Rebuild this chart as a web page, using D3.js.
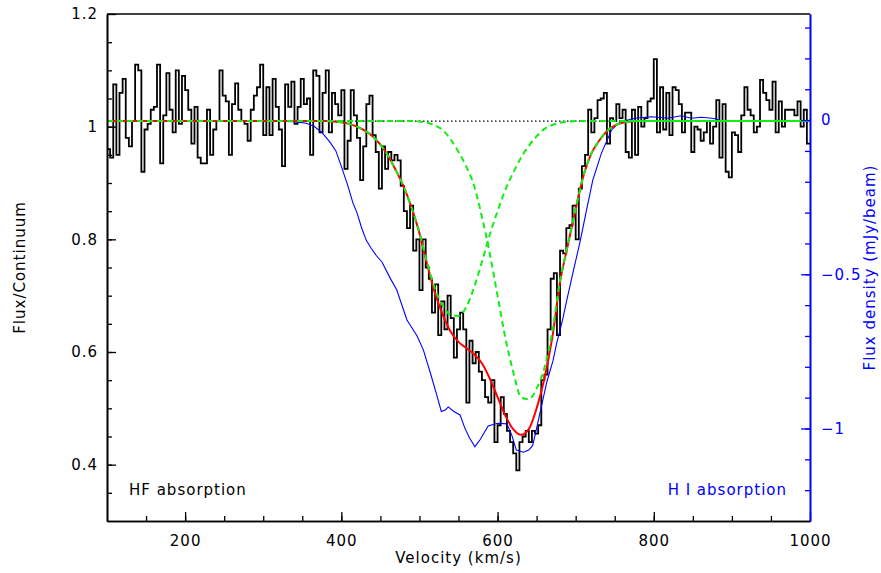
<!DOCTYPE html>
<html>
<head>
<meta charset="utf-8">
<script src="https://cdn.jsdelivr.net/npm/d3@7"></script>
<style>
body { margin: 0; background: #fff; }
text { font-family: "DejaVu Sans", sans-serif; letter-spacing: 1px; }
</style>
</head>
<body>
<div id="chart-area"></div>
<script>
// HF spectrum, 4 km/s channels starting at 100 km/s (flux / continuum)
var hfStart = 100, hfStep = 4;
var hfFlux = [
    0.96, 0.945, 1.075, 0.95, 1.06, 1.085, 0.98, 0.965, 1.01, 1.11,
    1.10, 0.92, 0.995, 1.005, 1.03, 1.035, 1.11, 0.935, 1.02, 1.095,
    1.03, 0.99, 1.10, 1.005, 1.09, 1.065, 1.03, 0.97, 1.035, 0.945,
    0.935, 0.935, 1.03, 0.95, 0.995, 1.01, 1.10, 1.055, 1.045, 0.95,
    1.04, 1.077, 1.03, 1.01, 1.005, 0.975, 1.03, 1.055, 1.07, 1.11,
    0.985, 1.07, 0.985, 1.085, 1.035, 0.995, 0.93, 1.075, 1.035, 1.08,
    1.005, 1.035, 1.085, 1.04, 1.05, 0.95, 1.10, 1.09, 0.99, 1.06,
    1.10, 0.99, 1.06, 1.04, 1.02, 1.065, 0.925, 0.975, 1.065, 1.02,
    0.98, 0.905, 0.965, 1.04, 1.055, 0.985, 0.955, 0.89, 0.965, 0.925,
    0.955, 0.94, 0.95, 0.94, 0.895, 0.85, 0.82, 0.86, 0.78, 0.80,
    0.71, 0.80, 0.75, 0.73, 0.67, 0.72, 0.63, 0.69, 0.64, 0.70,
    0.66, 0.59, 0.64, 0.67, 0.64, 0.51, 0.62, 0.58, 0.60, 0.565,
    0.55, 0.52, 0.51, 0.55, 0.44, 0.47, 0.52, 0.49, 0.46, 0.44,
    0.42, 0.39, 0.44, 0.45, 0.46, 0.44, 0.46, 0.455, 0.47, 0.55,
    0.56, 0.64, 0.73, 0.74, 0.63, 0.78, 0.775, 0.82, 0.825, 0.86,
    0.80, 0.89, 0.93, 0.95, 1.03, 0.99, 1.015, 1.047, 1.05, 1.06,
    0.97, 1.015, 1.01, 1.04, 1.015, 1.03, 0.955, 0.945, 1.03, 0.95,
    1.035, 1.0, 1.015, 1.045, 1.05, 1.12, 0.99, 1.07, 0.995, 1.06,
    0.985, 1.07, 1.065, 1.04, 0.99, 1.025, 1.025, 0.955, 1.0, 0.995,
    0.975, 0.99, 1.01, 0.97, 1.0, 1.047, 0.945, 1.04, 0.92, 0.91,
    0.99, 0.985, 0.955, 1.02, 1.07, 1.03, 1.02, 0.99, 1.0, 1.083,
    1.06, 1.047, 1.03, 1.08, 0.99, 1.045, 1.0, 1.03, 1.03, 1.03,
    1.02, 1.045, 1.0, 1.03, 0.97
];

// Gaussian fit: total (red) and the two components (green)
var fitVel = [100, 360, 370, 380, 390, 400, 410, 420, 430, 440, 450, 460, 470, 480, 490,
    500, 510, 520, 530, 540, 550, 560, 570, 580, 590, 600, 610, 620, 630, 640, 650,
    660, 670, 680, 690, 700, 710, 720, 730, 740, 750, 760, 770, 780, 790, 800, 1000];
var fitTotal = [1.01, 1.01, 1.01, 1.01, 1.009, 1.008, 1.005, 1.000, 0.993, 0.983, 0.968, 0.948, 0.922, 0.893, 0.856,
    0.811, 0.755, 0.704, 0.666, 0.636, 0.618, 0.607, 0.596, 0.580, 0.553, 0.520, 0.487, 0.463, 0.453, 0.463, 0.500,
    0.553, 0.625, 0.724, 0.790, 0.854, 0.913, 0.952, 0.975, 0.992, 1.002, 1.007, 1.009, 1.01, 1.01, 1.01, 1.01];
var fitComp1 = [1.01, 1.01, 1.01, 1.01, 1.009, 1.008, 1.005, 1.000, 0.993, 0.983, 0.968, 0.948, 0.922, 0.893, 0.856,
    0.812, 0.758, 0.712, 0.682, 0.666, 0.664, 0.680, 0.715, 0.760, 0.808, 0.850, 0.888, 0.918, 0.945, 0.966, 0.983,
    0.996, 1.003, 1.007, 1.009, 1.01, 1.01, 1.01, 1.01, 1.01, 1.01, 1.01, 1.01, 1.01, 1.01, 1.01, 1.01];
var fitComp2 = [1.01, 1.01, 1.01, 1.01, 1.01, 1.01, 1.01, 1.01, 1.01, 1.01, 1.01, 1.01, 1.01, 1.01, 1.01,
    1.009, 1.007, 1.002, 0.994, 0.977, 0.955, 0.929, 0.895, 0.840, 0.775, 0.700, 0.625, 0.565, 0.520, 0.516, 0.535,
    0.572, 0.636, 0.727, 0.791, 0.854, 0.913, 0.952, 0.975, 0.992, 1.002, 1.007, 1.009, 1.01, 1.01, 1.01, 1.01];
var continuum = 1.01;

// H I absorption (mJy/beam, right axis)
var hiVel = [225, 260, 300, 340, 355, 365, 375, 385, 393, 400, 408, 415, 420, 426, 432, 438, 445, 452, 462, 471,
    484, 497, 505, 514, 522, 528, 533, 537, 544, 552, 558, 564, 571, 578, 588, 600, 612, 618, 624, 633,
    640, 645, 650, 656, 663, 671, 676, 683, 689, 697, 706, 714, 722, 733, 746, 755, 763, 776, 797, 818,
    835, 848, 861, 875, 885];
var hiFlux = [-0.004, -0.003, -0.003, -0.005, -0.01, -0.02, -0.04, -0.07, -0.10, -0.15, -0.21, -0.27, -0.30, -0.35, -0.39, -0.415, -0.44, -0.46, -0.51, -0.551,
    -0.648, -0.70, -0.745, -0.82, -0.89, -0.945, -0.94, -0.93, -0.945, -0.956, -0.998, -1.03, -1.059, -1.035, -0.992, -0.983, -0.985, -1.02, -1.07, -1.077,
    -1.07, -1.055, -1.00, -0.93, -0.85, -0.78, -0.72, -0.65, -0.58, -0.49, -0.39, -0.29, -0.194, -0.107, -0.032, -0.01, -0.002, 0.006, 0.011, 0.006,
    0.014, 0.006, 0.009, 0.006, 0.0];

var xTicks = [200, 400, 600, 800, 1000];
var yTicks = [0.4, 0.6, 0.8, 1, 1.2];
var y2Ticks = [0, -0.5, -1];

var width = 881, height = 573;
var plotLeft = 107, plotRight = 810, plotTop = 14, plotBottom = 521;

var svg = d3.select("#chart-area").append("svg")
    .attr("width", width)
    .attr("height", height);

var x = d3.scaleLinear().domain([100, 1000]).range([plotLeft, plotRight]);
var y = d3.scaleLinear().domain([0.3, 1.2]).range([plotBottom, plotTop]);
var y2 = d3.scaleLinear().domain([-1.3, 0.344]).range([plotBottom, plotTop]);

svg.append("clipPath").attr("id", "plot")
    .append("rect")
    .attr("x", plotLeft).attr("y", plotTop)
    .attr("width", plotRight - plotLeft).attr("height", plotBottom - plotTop);

var plot = svg.append("g").attr("clip-path", "url(#plot)");

// HF data as a histogram
var hfPoints = hfFlux.map(function (f, i) { return [hfStart + i * hfStep, f]; });
hfPoints.push([hfStart + hfFlux.length * hfStep, hfFlux[hfFlux.length - 1]]);

plot.append("path")
    .datum(hfPoints)
    .attr("fill", "none")
    .attr("stroke", "#000")
    .attr("stroke-width", 1.8)
    .attr("d", d3.line()
        .x(function (d) { return x(d[0]); })
        .y(function (d) { return y(d[1]); })
        .curve(d3.curveStepAfter));

// H I
plot.append("path")
    .datum(hiVel.map(function (v, i) { return [v, hiFlux[i]]; }))
    .attr("fill", "none")
    .attr("stroke", "#0000ff")
    .attr("stroke-width", 1.1)
    .attr("d", d3.line()
        .x(function (d) { return x(d[0]); })
        .y(function (d) { return y2(d[1]); }));

// continuum
plot.append("line")
    .attr("x1", x(100)).attr("x2", x(1000))
    .attr("y1", y(continuum)).attr("y2", y(continuum))
    .attr("stroke", "#000")
    .attr("stroke-width", 1.3)
    .attr("stroke-dasharray", "1.5,2.5");

var fitLine = d3.line()
    .x(function (d) { return x(d[0]); })
    .y(function (d) { return y(d[1]); })
    .curve(d3.curveMonotoneX);

plot.append("path")
    .datum(fitVel.map(function (v, i) { return [v, fitTotal[i]]; }))
    .attr("fill", "none")
    .attr("stroke", "#ff0000")
    .attr("stroke-width", 2)
    .attr("d", fitLine);

[fitComp1, fitComp2].forEach(function (comp) {
    plot.append("path")
        .datum(fitVel.map(function (v, i) { return [v, comp[i]]; }))
        .attr("fill", "none")
        .attr("stroke", "#11ee11")
        .attr("stroke-width", 2)
        .attr("stroke-dasharray", "6,4")
        .attr("d", fitLine);
});

// axes
function minorTicks(start, stop, step) {
    var t = [];
    for (var v = start; v <= stop + 1e-9; v += step) t.push(Math.round(v * 1000) / 1000);
    return t;
}

function styleAxis(g, color) {
    g.select(".domain").attr("stroke", color).attr("stroke-width", 1.6);
    g.selectAll(".tick line").attr("stroke", color).attr("stroke-width", 1.3);
    g.selectAll("text").attr("fill", color).attr("font-size", 15)
        .attr("font-family", "DejaVu Sans, sans-serif");
}

var xMinor = svg.append("g").attr("transform", "translate(0," + plotBottom + ")")
    .call(d3.axisBottom(x).tickValues(minorTicks(150, 950, 50)).tickSize(-5).tickSizeOuter(0).tickFormat(""));
styleAxis(xMinor, "#000");
var xAxis = svg.append("g").attr("transform", "translate(0," + plotBottom + ")")
    .call(d3.axisBottom(x).tickValues(xTicks).tickSize(-9).tickSizeOuter(0).tickPadding(14).tickFormat(d3.format("d")));
styleAxis(xAxis, "#000");

var yMinor = svg.append("g").attr("transform", "translate(" + plotLeft + ",0)")
    .call(d3.axisLeft(y).tickValues(minorTicks(0.35, 1.15, 0.05)).tickSize(-5).tickSizeOuter(0).tickFormat(""));
styleAxis(yMinor, "#000");
var yAxis = svg.append("g").attr("transform", "translate(" + plotLeft + ",0)")
    .call(d3.axisLeft(y).tickValues(yTicks).tickSize(-9).tickSizeOuter(0).tickPadding(9)
        .tickFormat(function (d) { return d === 1 ? "1" : d3.format(".1f")(d); }));
styleAxis(yAxis, "#000");

var y2Minor = svg.append("g").attr("transform", "translate(" + plotRight + ",0)")
    .call(d3.axisRight(y2).tickValues(minorTicks(-1.2, 0.3, 0.1)).tickSize(-5).tickSizeOuter(0).tickFormat(""));
styleAxis(y2Minor, "#0000ff");
var y2Axis = svg.append("g").attr("transform", "translate(" + plotRight + ",0)")
    .call(d3.axisRight(y2).tickValues(y2Ticks).tickSize(-9).tickSizeOuter(0).tickPadding(11)
        .tickFormat(function (d) { return d === 0 ? "0" : d3.format("")(d).replace("-", "\u2212"); }));
styleAxis(y2Axis, "#0000ff");

// top frame
svg.append("line")
    .attr("x1", plotLeft).attr("x2", plotRight)
    .attr("y1", plotTop).attr("y2", plotTop)
    .attr("stroke", "#000").attr("stroke-width", 1.6);

// labels
svg.append("text")
    .attr("x", (plotLeft + plotRight) / 2).attr("y", 563)
    .attr("text-anchor", "middle").attr("font-size", 15)
    .text("Velocity (km/s)");

svg.append("text")
    .attr("transform", "translate(25," + (plotTop + plotBottom) / 2 + ") rotate(-90)")
    .attr("text-anchor", "middle").attr("font-size", 15)
    .text("Flux/Continuum");

svg.append("text")
    .attr("transform", "translate(875," + (plotTop + plotBottom) / 2 + ") rotate(-90)")
    .attr("text-anchor", "middle").attr("font-size", 15)
    .attr("fill", "#0000ff")
    .text("Flux density (mJy/beam)");

svg.append("text")
    .attr("x", 129).attr("y", 495)
    .attr("font-size", 15)
    .text("HF absorption");

svg.append("text")
    .attr("x", 787).attr("y", 495)
    .attr("text-anchor", "end").attr("font-size", 15)
    .attr("fill", "#0000ff")
    .text("H I absorption");
</script>
</body>
</html>
